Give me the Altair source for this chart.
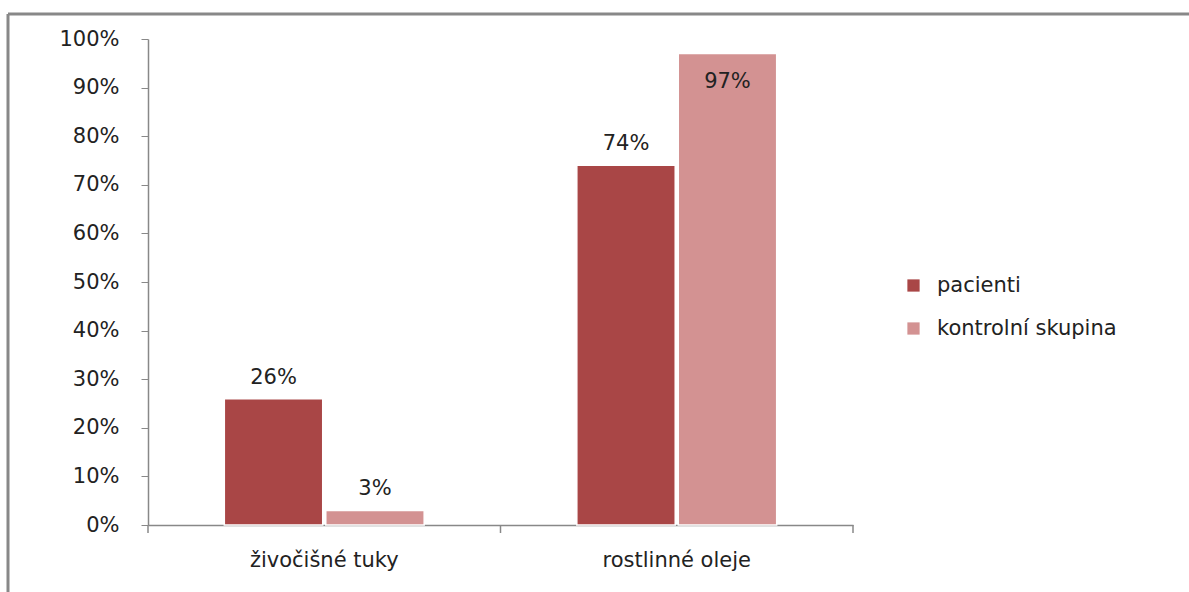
import altair as alt
import pandas as pd

categories = ["živočišné tuky", "rostlinné oleje"]
groups = ["pacienti", "kontrolní skupina"]
pacienti = [0.26, 0.74]
kontrolni = [0.03, 0.97]

colors = ["#A94646", "#D39292"]
font = "DejaVu Sans"

rows = []
for i, cat in enumerate(categories):
    rows.append({"kategorie": cat, "skupina": groups[0], "podil": pacienti[i]})
    rows.append({"kategorie": cat, "skupina": groups[1], "podil": kontrolni[i]})
df = pd.DataFrame(rows)

W, H = 705, 486

x_enc = alt.X(
    "kategorie:N",
    sort=categories,
    title=None,
    scale=alt.Scale(paddingInner=0.433, paddingOuter=0.2165),
    axis=alt.Axis(
        labelAngle=0, labelFont=font, labelFontSize=21, labelColor="#222",
        labelPadding=24, ticks=False,
        domainColor="#888", domainWidth=1.5,
    ),
)
xoff = alt.XOffset("skupina:N", sort=groups, scale=alt.Scale(paddingInner=0.03))
y_enc = alt.Y(
    "podil:Q",
    title=None,
    scale=alt.Scale(domain=[0, 1], nice=False),
    axis=alt.Axis(
        values=[i / 10 for i in range(11)], format=".0%", grid=False,
        labelFont=font, labelFontSize=21, labelColor="#222", labelPadding=22,
        tickSize=7, tickColor="#888", domainColor="#888", domainWidth=1.5,
    ),
)
color = alt.Color(
    "skupina:N",
    sort=groups,
    scale=alt.Scale(domain=groups, range=colors),
    legend=alt.Legend(
        title=None, orient="none", legendX=755, legendY=236,
        symbolType="square", symbolSize=150, symbolStrokeWidth=0,
        labelFont=font, labelFontSize=21, labelColor="#222", labelLimit=400,
        labelOffset=13, rowPadding=21,
    ),
)

base = alt.Chart(df)

bars = base.mark_bar(stroke="white", strokeWidth=1.5).encode(
    x=x_enc, xOffset=xoff, y=y_enc, color=color
)

labels_above = base.transform_filter("datum.podil < 0.9").mark_text(
    font=font, fontSize=21, color="#222", dy=-21
).encode(x=x_enc, xOffset=xoff, y=y_enc, text=alt.Text("podil:Q", format=".0%"))

labels_inside = base.transform_filter("datum.podil >= 0.9").mark_text(
    font=font, fontSize=21, color="#222", dy=28
).encode(x=x_enc, xOffset=xoff, y=y_enc, text=alt.Text("podil:Q", format=".0%"))

# category-boundary tick marks under the x axis
one = pd.DataFrame({"k": [0]})
xticks = [
    alt.Chart(one).mark_rule(color="#888", strokeWidth=1.5).encode(
        x=alt.value(px), y=alt.value(H), y2=alt.value(H + 8)
    )
    for px in (0, W / 2, W)
]

# outer frame drawn as a rule outline (top and left edges are the visible ones)
frame_top = alt.Chart(one).mark_rule(color="#888", strokeWidth=3).encode(
    x=alt.value(-140), x2=alt.value(1060), y=alt.value(-25)
)
frame_left = alt.Chart(one).mark_rule(color="#888", strokeWidth=3).encode(
    x=alt.value(-140), y=alt.value(-25), y2=alt.value(620)
)

chart = alt.layer(frame_top, frame_left, bars, labels_above, labels_inside, *xticks).properties(
    width=W, height=H,
    autosize=alt.AutoSizeParams(type="none"),
    padding={"left": 148, "top": 39, "right": 336, "bottom": 67},
).configure(
    background="white",
    view=alt.ViewConfig(stroke="white", strokeWidth=2, strokeOpacity=0),
)

chart.save("out.html", embed_options={"renderer": "svg", "actions": False})
